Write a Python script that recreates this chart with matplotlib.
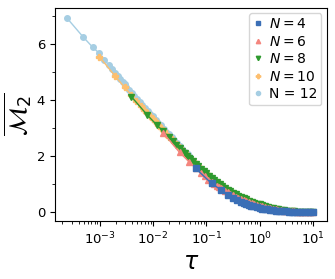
import matplotlib
matplotlib.use('Agg')
import matplotlib.pyplot as plt
from matplotlib.ticker import MultipleLocator

# shared tau grid (0.05 decade steps) and the common curve the large systems follow
grid_tau = [0.001, 0.00112, 0.00126, 0.00141, 0.00158, 0.00178, 0.00200, 0.00224, 0.00251, 0.00282,
            0.00316, 0.00355, 0.00398, 0.00447, 0.00501, 0.00562, 0.00631, 0.00708, 0.00794, 0.00891,
            0.0100, 0.0112, 0.0126, 0.0141, 0.0158, 0.0178, 0.0200, 0.0224, 0.0251, 0.0282,
            0.0316, 0.0355, 0.0398, 0.0447, 0.0501, 0.0562, 0.0631, 0.0708, 0.0794, 0.0891,
            0.100, 0.112, 0.126, 0.141, 0.158, 0.178, 0.200, 0.224, 0.251, 0.282,
            0.316, 0.355, 0.398, 0.447, 0.501, 0.562, 0.631, 0.708, 0.794, 0.891,
            1.00, 1.12, 1.26, 1.41, 1.58, 1.78, 2.00, 2.24, 2.51, 2.82,
            3.16, 3.55, 3.98, 4.47, 5.01, 5.62, 6.31, 7.08, 7.94, 8.91, 10.0]
env_m = [5.53, 5.41, 5.30, 5.18, 5.07, 4.95, 4.84, 4.73, 4.61, 4.50,
         4.38, 4.28, 4.17, 4.06, 3.96, 3.85, 3.74, 3.64, 3.53, 3.42,
         3.32, 3.21, 3.11, 3.01, 2.90, 2.80, 2.70, 2.60, 2.50, 2.40,
         2.30, 2.20, 2.11, 2.01, 1.92, 1.82, 1.73, 1.64, 1.56, 1.47,
         1.39, 1.31, 1.23, 1.15, 1.08, 1.01, 0.93, 0.87, 0.81, 0.75,
         0.70, 0.64, 0.59, 0.54, 0.50, 0.46, 0.42, 0.38, 0.345, 0.31,
         0.28, 0.25, 0.22, 0.19, 0.165, 0.14, 0.12, 0.10, 0.085, 0.07,
         0.055, 0.045, 0.035, 0.03, 0.025, 0.02, 0.015, 0.01, 0.01, 0.01, 0.01]

# first time steps of each size (tau = t / 2^N)
head_tau_12 = [2.44e-4, 4.88e-4, 7.32e-4, 9.77e-4, 1.22e-3, 1.46e-3,
               1.71e-3, 1.95e-3, 2.20e-3, 2.44e-3, 2.69e-3, 2.93e-3,
               0.00316, 0.00355, 0.00398, 0.00447, 0.00501, 0.00562, 0.00631,
               0.00708, 0.00794, 0.00891, 0.0100, 0.0112, 0.0126, 0.0141,
               0.0158, 0.0178, 0.0200, 0.0224, 0.0251, 0.0282, 0.0316,
               0.0355, 0.0398, 0.0447, 0.0501]
head_m_12 = [6.93, 6.26, 5.90, 5.68, 5.45, 5.27, 5.11, 4.98, 4.86, 4.76, 4.66, 4.58,
             4.48, 4.38, 4.27, 4.16, 4.06, 3.95, 3.84,
             3.74, 3.63, 3.52, 3.42, 3.31, 3.20, 3.10,
             2.99, 2.88, 2.78, 2.68, 2.58, 2.48, 2.37,
             2.27, 2.17, 2.07, 1.97]

head_tau_10 = [9.77e-4, 1.95e-3, 2.93e-3, 3.91e-3, 4.88e-3, 5.86e-3,
               6.84e-3, 7.81e-3, 8.79e-3, 9.77e-3, 1.07e-2, 1.17e-2]
head_m_10 = [5.56, 4.86, 4.46, 4.19, 3.98, 3.81, 3.66, 3.55, 3.44, 3.34, 3.26, 3.18]

head_tau_8 = [3.91e-3, 7.81e-3, 1.17e-2, 1.56e-2, 1.95e-2, 2.34e-2,
              2.73e-2, 3.13e-2, 3.52e-2, 3.91e-2, 4.30e-2, 4.69e-2]
head_m_8 = [4.13, 3.47, 3.12, 2.89, 2.69, 2.53, 2.40, 2.29, 2.19, 2.10, 2.02, 1.95]

head_tau_6 = [0.0156, 0.0313, 0.0469, 0.0625, 0.0781, 0.0938,
              0.109, 0.125, 0.141, 0.156, 0.172, 0.1875]
head_m_6 = [2.83, 2.14, 1.81, 1.58, 1.41, 1.28, 1.17, 1.08, 1.01, 0.95, 0.90, 0.85]
# N=6 sits a little below the common curve for tau >= 0.2
tail_m_6 = [0.83, 0.77, 0.71, 0.66, 0.61, 0.56, 0.52, 0.48, 0.44, 0.40,
            0.365, 0.33, 0.30, 0.27, 0.24, 0.215, 0.19, 0.165, 0.145, 0.125,
            0.105, 0.09, 0.075, 0.06, 0.05, 0.04, 0.035, 0.03, 0.025, 0.02,
            0.015, 0.01, 0.01, 0.01, 0.01]

tau_4 = [0.0625, 0.125, 0.1875, 0.25, 0.3125, 0.375, 0.4375, 0.5, 0.5625, 0.625,
         0.6875, 0.75, 0.875, 1.0, 1.125, 1.25, 1.375, 1.5625, 1.75, 2.0,
         2.25, 2.5, 2.8125, 3.125, 3.5, 3.94, 4.44, 5.0, 5.625, 6.25,
         7.0, 7.875, 8.81, 10.0]
m_4 = [1.57, 1.03, 0.80, 0.63, 0.52, 0.44, 0.38, 0.33, 0.29, 0.26,
       0.235, 0.215, 0.18, 0.155, 0.135, 0.12, 0.105, 0.09, 0.075, 0.06,
       0.05, 0.04, 0.035, 0.03, 0.025, 0.02, 0.015, 0.01, 0.01, 0.01,
       0.01, 0.01, 0.01, 0.01]


def join(head_tau, head_m, tail_tau, tail_m):
    keep = [(t, m) for t, m in zip(tail_tau, tail_m) if t > head_tau[-1] * 1.02]
    return head_tau + [k[0] for k in keep], head_m + [k[1] for k in keep]


tau_12, m_12 = join(head_tau_12, head_m_12, grid_tau, env_m)
tau_10, m_10 = join(head_tau_10, head_m_10, grid_tau, env_m)
tau_8, m_8 = join(head_tau_8, head_m_8, grid_tau, env_m)
tau_6, m_6 = join(head_tau_6, head_m_6, grid_tau[-len(tail_m_6):], tail_m_6)

labels = ['$N=4$', '$N=6$', '$N=8$', '$N=10$', 'N = 12']
colors = ['#3b6fb6', '#f4867e', '#2e9a2e', '#fdbf6f', '#a6cee3']
markers = ['s', '^', 'v', 'P', 'o']
sizes = [4.2, 4.2, 4.2, 4.2, 4.0]
taus = [tau_4, tau_6, tau_8, tau_10, tau_12]
vals = [m_4, m_6, m_8, m_10, m_12]

fig = plt.figure(figsize=(3.35, 2.79), dpi=100)
ax = fig.add_axes([0.164, 0.208, 0.812, 0.765])

# N=12 at the bottom, N=4 on top
for i in range(5):
    z = 10 - i
    ax.plot(taus[i], vals[i], '-', color=colors[i], lw=1, zorder=z)
    ax.plot(taus[i], vals[i], linestyle='none', marker=markers[i], ms=sizes[i],
            color=colors[i], label=labels[i], zorder=z)

ax.set_xscale('log')
ax.set_xlim(10**-3.84, 10**1.26)
ax.set_ylim(-0.31, 7.31)
ax.yaxis.set_major_locator(MultipleLocator(2))
ax.yaxis.set_minor_locator(MultipleLocator(1))
ax.tick_params(labelsize=9.5)
ax.set_xlabel(r'$\tau$', fontsize=17, labelpad=2)
ax.set_ylabel(r'$\overline{\mathcal{M}_2}$', fontsize=18, labelpad=1)

ax.legend(loc='upper right', fontsize=10,
          handlelength=0.6, handletextpad=0.5, markerscale=0.75,
          borderpad=0.3, labelspacing=0.25, borderaxespad=0.4)

fig.savefig('out.png', dpi=100)
